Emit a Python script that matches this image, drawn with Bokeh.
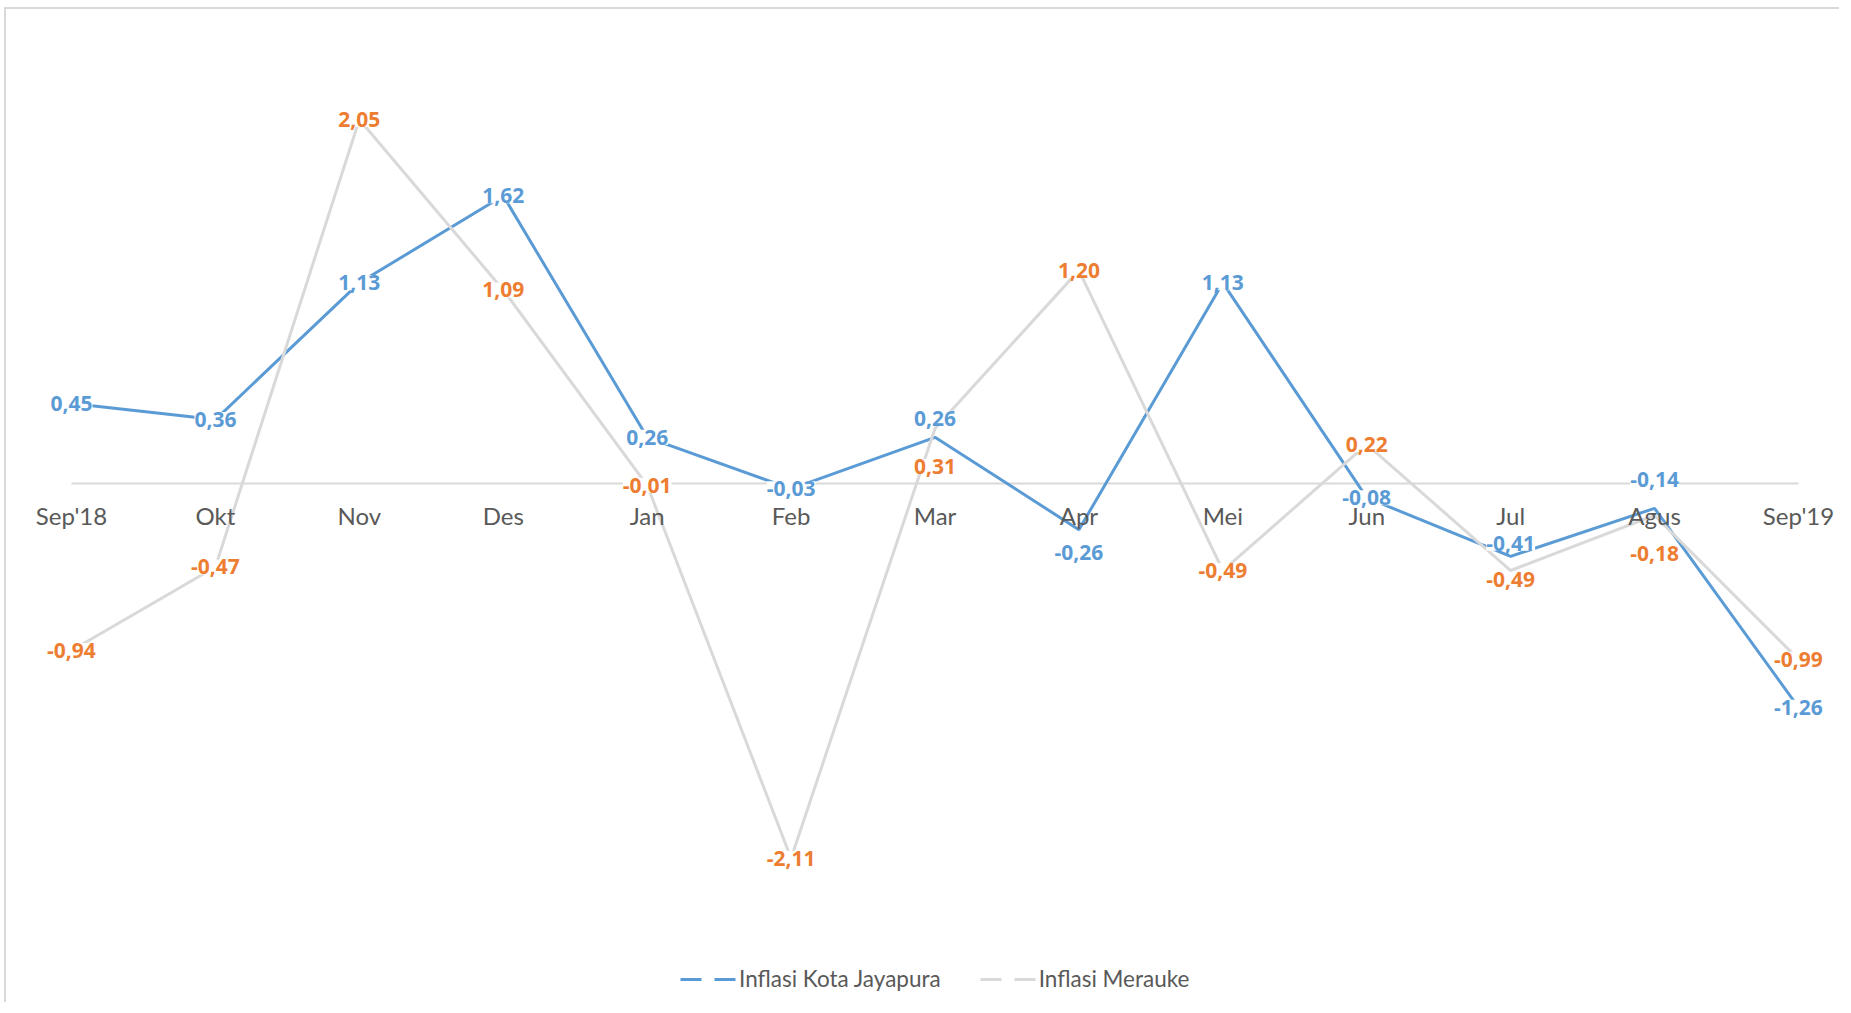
from bokeh.plotting import figure
from bokeh.models import (ColumnDataSource, LabelSet, Range1d, FixedTicker,
                          Legend, LegendItem, LinearAxis)
from bokeh.core.properties import value
from bokeh.embed import file_html
from bokeh.resources import INLINE

# ---- data ----
months = ["Sep'18", "Okt", "Nov", "Des", "Jan", "Feb", "Mar", "Apr", "Mei",
          "Jun", "Jul", "Agus", "Sep'19"]
jayapura = [0.45, 0.36, 1.13, 1.62, 0.26, -0.03, 0.26, -0.26, 1.13, -0.08,
            -0.41, -0.14, -1.26]
merauke = [-0.94, -0.47, 2.05, 1.09, -0.01, -2.11, 0.31, 1.20, -0.49, 0.22,
           -0.49, -0.18, -0.99]

# ---- label placement (pixel offsets, positive = up) ----
jay_label_dy = [0, 0, 0, 0, 0, 0, 19, -23, 0, 0, 13, 29, 0]
mer_label_dy = [0, 0, 0, 0, 0, 0, -38, 0, 0, 0, -9, -38, 0]

BLUE = "#5B9BD5"
GREY = "#D9D9D9"
ORANGE = "#ED7D31"
TEXT = "#595959"
FONT = "Lato"
LABEL_FONT = "Open Sans"

idx = list(range(len(months)))
nan = float("nan")


def fmt(v):
    return f"{v:.2f}".replace(".", ",")


src_j = ColumnDataSource(dict(x=idx, y=jayapura, t=[fmt(v) for v in jayapura],
                              dy=jay_label_dy))
src_m = ColumnDataSource(dict(x=idx, y=merauke, t=[fmt(v) for v in merauke],
                              dy=mer_label_dy))

p = figure(width=1835, height=995, x_range=Range1d(-0.4517, 12.2988),
           y_range=Range1d(-2.9336, 2.6689), output_backend="svg",
           toolbar_location=None, min_border_left=0, min_border_right=0,
           min_border_top=0, min_border_bottom=0,
           x_axis_location=None, y_axis_location=None)
p.grid.visible = False
p.outline_line_color = None
p.background_fill_color = "white"
p.border_fill_color = "white"
p.styles = {"border-top": "2px solid #D9D9D9", "border-left": "2px solid #D9D9D9",
            "margin-left": "4px", "margin-top": "7px"}

xaxis = LinearAxis(ticker=FixedTicker(ticks=idx),
                   major_label_overrides={i: m for i, m in enumerate(months)},
                   fixed_location=0)
xaxis.axis_line_color = None
xaxis.major_tick_line_color = None
xaxis.minor_tick_line_color = None
xaxis.major_label_text_font = FONT
xaxis.major_label_text_font_size = "24px"
xaxis.major_label_text_color = TEXT
xaxis.major_label_standoff = 12
p.add_layout(xaxis, "below")

# zero line spanning the first to the last category
p.segment(x0=idx[0], x1=idx[-1], y0=0, y1=0, line_color=GREY, line_width=2)

p.line("x", "y", source=src_j, line_color=BLUE, line_width=3)
p.line("x", "y", source=src_m, line_color=GREY, line_width=3)

label_extra = {}
if "padding" in LabelSet.properties():
    label_extra["padding"] = 4

for src, col in ((src_j, BLUE), (src_m, ORANGE)):
    p.add_layout(LabelSet(x="x", y="y", text="t", source=src, y_offset="dy",
                          text_align="center", text_baseline="middle",
                          text_font=value(LABEL_FONT), text_font_style="bold",
                          text_font_size="21px", text_color=col,
                          background_fill_color="white", **label_extra))

leg_j = p.line([nan], [nan], line_color=BLUE, line_width=3, line_dash="21 13")
leg_m = p.line([nan], [nan], line_color=GREY, line_width=3, line_dash="21 13")
legend = Legend(items=[LegendItem(label="Inflasi Kota Jayapura", renderers=[leg_j]),
                       LegendItem(label="Inflasi Merauke", renderers=[leg_m])],
                location=(674, 12), orientation="horizontal",
                glyph_width=56, glyph_height=20, label_standoff=3, spacing=39,
                padding=5, margin=0, border_line_color=None,
                background_fill_alpha=0,
                label_text_font=FONT, label_text_font_size="22.5px",
                label_text_color=TEXT)
p.add_layout(legend)

open("out.html", "w").write(file_html(p, INLINE))
